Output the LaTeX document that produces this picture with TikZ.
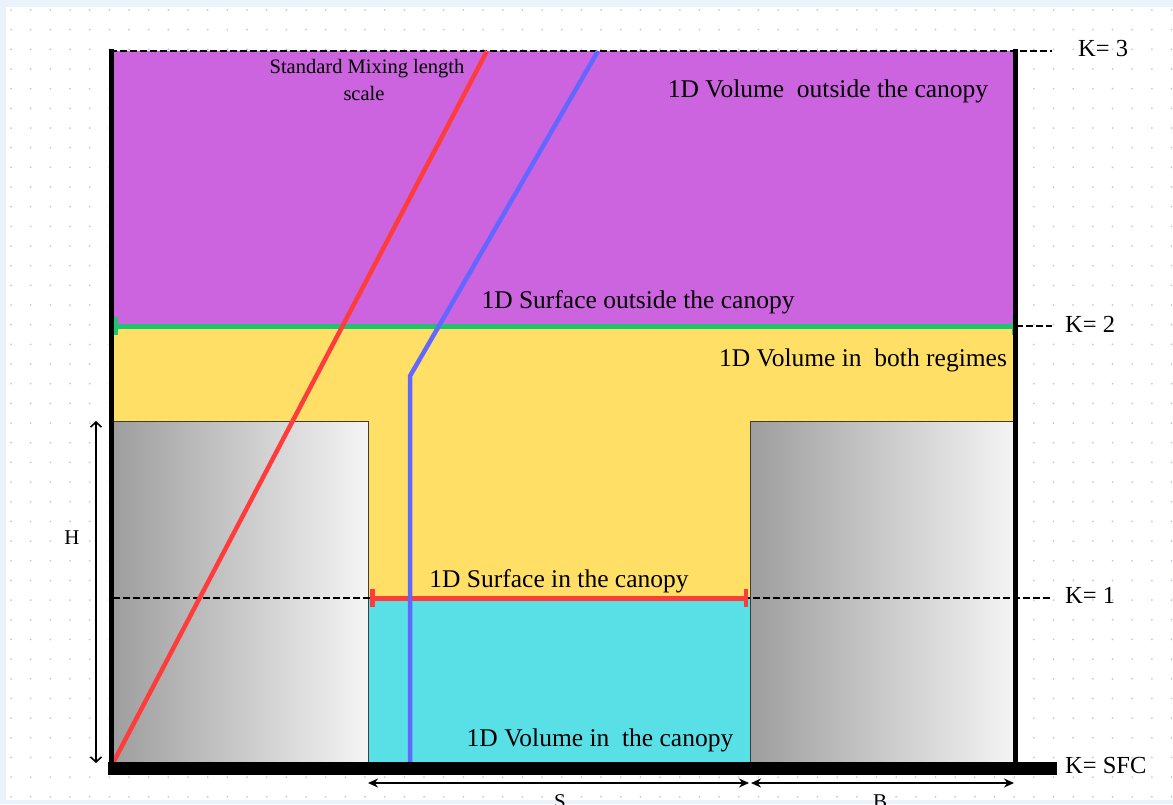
\documentclass[tikz,border=0pt]{standalone}
\usepackage{fontspec}
\setmainfont{Liberation Serif}
\usetikzlibrary{arrows.meta}

\definecolor{pagebg}{RGB}{234,243,251}
\definecolor{griddot}{RGB}{196,202,220}
\definecolor{outerzone}{RGB}{204,99,223}
\definecolor{bothzone}{RGB}{255,223,102}
\definecolor{canopyzone}{RGB}{89,224,230}
\definecolor{redline}{RGB}{255,60,60}
\definecolor{blueline}{RGB}{98,104,255}
\definecolor{greenline}{RGB}{30,196,110}
\definecolor{bldgrey}{RGB}{158,158,158}
\definecolor{bldedge}{RGB}{60,60,60}

\tikzset{
  lbl/.style={font=\fontsize{25.5}{30}\selectfont, inner sep=0pt, anchor=base},
  smalllbl/.style={font=\fontsize{20.5}{24}\selectfont, inner sep=0pt, anchor=base},
  klbl/.style={font=\fontsize{24.5}{29}\selectfont, inner sep=0pt, anchor=base west},
  dimlbl/.style={font=\fontsize{21}{25}\selectfont, inner sep=0pt, anchor=base},
  levelline/.style={dash pattern=on 7pt off 3pt, line width=2pt},
  building/.style={draw=bldedge, line width=0.8pt, left color=bldgrey, right color=white!96!black},
  profile/.style={line width=4.5pt, line join=round},
  dimarrow/.style={line width=1.6pt, {Stealth[length=10pt,width=9pt]}-{Stealth[length=10pt,width=9pt]}},
  harrow/.style={line width=1.6pt, {Straight Barb[length=5pt,width=11pt]}-{Straight Barb[length=5pt,width=11pt]}},
  surface/.style={line width=5pt, {Bar[width=18pt,line width=4.5pt]}-{Bar[width=18pt,line width=4.5pt]}}
}

\begin{document}
\begin{tikzpicture}[x=1pt,y=-1pt]
\useasboundingbox (0,0) rectangle (1173,804);
\fill[pagebg] (0,0) rectangle (1173,804);
\fill[white] (6,7) rectangle (1173,800);

% dotted background grid
\foreach \i in {0,...,59}
  \foreach \j in {0,...,40}
    \fill[griddot] ({11+19.67*\i},{10+19.67*\j}) circle (1pt);

% end points of the two surfaces
\coordinate (k2-l) at (113,326);
\coordinate (k2-r) at (1016,326);
\coordinate (k1-l) at (370,598);
\coordinate (k1-r) at (748,598);

% layers
\fill[outerzone] (113,51) rectangle (1016,326);
\fill[bothzone] (113,326) rectangle (1016,598);
\fill[canopyzone] (368,598) rectangle (750,763);

% buildings
\path[building] (113,421) rectangle (368,763);
\path[building] (750,421) rectangle (1016,763);

% model levels
\coordinate (k3-a) at (110,51);
\coordinate (k3-b) at (1052,51);
\coordinate (k2-a) at (1016,326);
\coordinate (k2-b) at (1052,326);
\coordinate (k1-a) at (113,598);
\coordinate (k1-b) at (1052,598);
\draw[levelline] (k3-a) -- (k3-b);
\draw[levelline] (k2-a) -- (k2-b);
\draw[levelline] (k1-a) -- (k1-b);

% surfaces
\draw[surface, greenline] (k2-l) -- (k2-r);
\draw[surface, redline] (k1-l) -- (k1-r);

% mixing length profiles
\coordinate (red-a) at (113,763);
\coordinate (red-b) at (487,51);
\draw[profile, redline] (red-a) -- (red-b);
\coordinate (blue-a) at (410,763);
\coordinate (blue-k) at (410,376);
\coordinate (blue-b) at (598,51);
\draw[profile, blueline] (blue-a) -- (blue-k) -- (blue-b);

% column walls and ground
\draw[line width=5.5pt] (111.5,49) -- (111.5,775);
\draw[line width=5.5pt] (1015.5,49) -- (1015.5,775);
\fill[black] (108,762) rectangle (1057,775);

% dimensions
\coordinate (h-top) at (96,421);
\coordinate (h-bot) at (96,763);
\draw[harrow] (h-top) -- (h-bot);
\node[dimlbl] (hlab) at (72,544) {H};

\coordinate (s-l) at (368,783);
\coordinate (s-r) at (749,783);
\coordinate (b-l) at (751,783);
\coordinate (b-r) at (1014,783);
\draw[dimarrow] (s-l) -- (s-r);
\draw[dimarrow] (b-l) -- (b-r);
\node[dimlbl] (slab) at (560,808) {S};
\node[dimlbl] (blab) at (880,808) {B};

% labels
\node[smalllbl] (mix1) at (367,73) {Standard Mixing length};
\node[smalllbl] (mix2) at (364,100) {scale};
\node[lbl] (vol-out) at (828,97) {1D Volume\ \ outside the canopy};
\node[lbl] (surf-out) at (638,308) {1D Surface outside the canopy};
\node[lbl] (vol-both) at (863,366) {1D Volume in\ \ both regimes};
\node[lbl] (surf-in) at (559,587) {1D Surface in the canopy};
\node[lbl] (vol-in) at (600,746) {1D Volume in\ \ the canopy};

\node[klbl] (k3) at (1078,56) {K= 3};
\node[klbl] (k2) at (1065,332) {K= 2};
\node[klbl] (k1) at (1065,603) {K= 1};
\node[klbl] (ksfc) at (1065,773) {K= SFC};
\end{tikzpicture}
\end{document}
